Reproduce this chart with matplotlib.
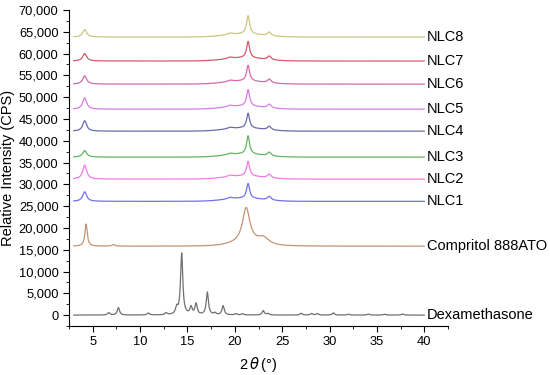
import numpy as np
import matplotlib
matplotlib.use("Agg")
import matplotlib.pyplot as plt
import matplotlib.ticker as mtick

plt.rcParams['font.family'] = ['Liberation Sans', 'DejaVu Sans']

# sample names, bottom to top
names = ['Dexamethasone', 'Compritol 888ATO', 'NLC1', 'NLC2', 'NLC3',
         'NLC4', 'NLC5', 'NLC6', 'NLC7', 'NLC8']
colors = ['#707070', '#c49474', '#7070ee', '#f27ae4', '#62b662',
          '#6a6aae', '#d47ee8', '#d46aac', '#d85a6c', '#c8c880']

# baseline offset of each pattern (CPS)
baselines = [0, 15800, 26100, 31200, 36250, 42200, 47250, 53000, 58300, 63800]

# NLC peaks: 2theta positions and heights above baseline
nlc_pos = [4.15, 19.5, 21.4, 23.64]
nlc_width = [0.5, 0.7, 0.38, 0.45]
nlc_heights = {
    'NLC1': [2200, 350, 3400, 850],
    'NLC2': [3200, 350, 3400, 850],
    'NLC3': [1500, 350, 4200, 850],
    'NLC4': [2400, 350, 3400, 850],
    'NLC5': [2600, 350, 3800, 850],
    'NLC6': [1900, 350, 3600, 850],
    'NLC7': [1700, 350, 3800, 850],
    'NLC8': [1700, 350, 4200, 850],
}
nlc_hump = [21.0, 700]   # broad amorphous hump centre / height

# Compritol 888ATO peaks
comp_pos = [4.3, 7.2, 21.2, 23.0]
comp_width = [0.3, 0.4, 0.95, 1.4]
comp_heights = [5100, 350, 8100, 1600]

# Dexamethasone peaks
dex_pos = [6.69, 7.71, 10.88, 12.74, 13.86, 14.39, 15.38, 15.91, 17.1, 17.9,
           18.76, 20.1, 20.8, 23.0, 23.5, 27.0, 28.1, 28.7, 30.4, 32.0,
           34.1, 35.8, 37.7]
dex_heights = [550, 1700, 450, 450, 1500, 14100, 1700, 2500, 5200, 450,
               2100, 300, 300, 1000, 350, 400, 350, 350, 500, 200,
               250, 200, 250]


def pattern(tt, pos, heights, widths):
    y = np.zeros_like(tt)
    for p, h, w in zip(pos, heights, widths):
        y += h / (1 + ((tt - p) / (w / 2)) ** 2)
    return y


tt = np.linspace(3, 40, 4000)
curves = []
curves.append(pattern(tt, dex_pos, dex_heights, [0.28] * len(dex_pos)))
curves.append(pattern(tt, comp_pos, comp_heights, comp_width)
              + 600 * np.exp(-((tt - 21.0) / 2.2) ** 2))
for n in names[2:]:
    c = pattern(tt, nlc_pos, nlc_heights[n], nlc_width)
    c += nlc_hump[1] * np.exp(-((tt - nlc_hump[0]) / 2.8) ** 2)
    curves.append(c)

fig = plt.figure(figsize=(5.5, 3.75), dpi=100)
ax = fig.add_axes([0.1255, 0.1307, 0.689, 0.8426])

for n, col, b, c in zip(names, colors, baselines, curves):
    ax.plot(tt, c + b, color=col, lw=0.9)
    ax.text(40.3, b, n, fontsize=10.5, va='center', ha='left', clip_on=False)

ax.set_xlim(2.5, 42.5)
ax.set_ylim(-2500, 70000)
ax.set_xticks(np.arange(5, 41, 5))
ax.xaxis.set_minor_locator(mtick.MultipleLocator(2.5))
ax.set_yticks(np.arange(0, 70001, 5000))
ax.yaxis.set_minor_locator(mtick.MultipleLocator(2500))
ax.yaxis.set_major_formatter(mtick.StrMethodFormatter('{x:,.0f}'))
ax.tick_params(which='major', direction='out', length=4, labelsize=9.3)
ax.tick_params(which='minor', direction='out', length=2)
ax.spines['top'].set_visible(False)
ax.spines['right'].set_visible(False)

ax.set_xlabel(r'2$\,\it{\theta}\,$(°)', fontsize=10.5, labelpad=5)
ax.set_ylabel('Relative Intensity (CPS)', fontsize=10.5, labelpad=3)

fig.savefig('out.png', dpi=100)
